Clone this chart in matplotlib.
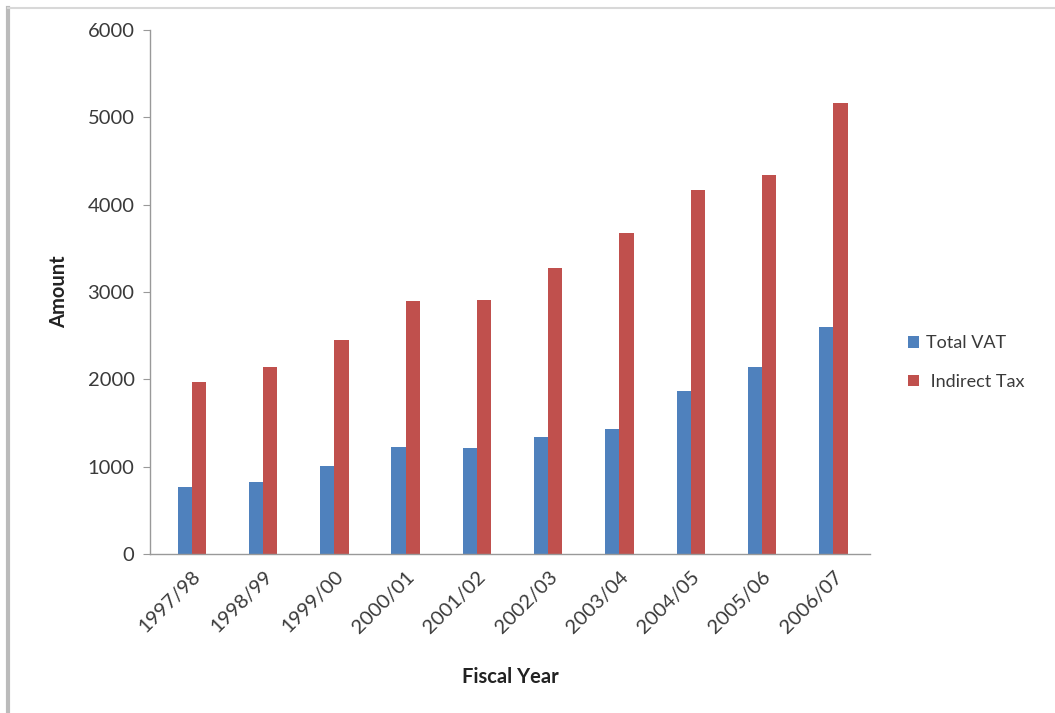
import numpy as np
import matplotlib.pyplot as plt
from matplotlib.lines import Line2D

years = ["1997/98", "1998/99", "1999/00", "2000/01", "2001/02",
         "2002/03", "2003/04", "2004/05", "2005/06", "2006/07"]
total_vat = [770, 830, 1010, 1220, 1210, 1340, 1430, 1870, 2145, 2600]
indirect_tax = [1970, 2140, 2450, 2900, 2910, 3280, 3680, 4170, 4340, 5160]

plt.rcParams['font.family'] = ['Lato', 'DejaVu Sans']

fig = plt.figure(figsize=(10.55, 7.13), dpi=100)
ax = fig.add_axes([0.142, 0.223, 0.683, 0.735])

x = np.arange(len(years))
w = 0.2
ax.bar(x - w/2, total_vat, width=w, color='#4F81BD', label='Total VAT')
ax.bar(x + w/2, indirect_tax, width=w, color='#C0504D', label=' Indirect Tax')

ax.set_xlim(-0.59, 9.52)
ax.set_ylim(0, 6000)
ax.set_yticks(range(0, 6001, 1000))
ax.set_xticks(x)
ax.set_xticklabels(years, rotation=45, ha='right', rotation_mode='anchor',
                   fontsize=14.5, color='#3a3a3a')
ax.tick_params(axis='x', length=0, pad=10)
ax.tick_params(axis='y', length=5, color='#999999', labelsize=14.5,
               labelcolor='#3a3a3a', pad=6)

for s in ['top', 'right']:
    ax.spines[s].set_visible(False)
for s in ['left', 'bottom']:
    ax.spines[s].set_color('#999999')
    ax.spines[s].set_linewidth(1.0)

ax.set_xlabel('Fiscal Year', fontsize=14.5, fontweight='bold', color='#222222', labelpad=22)
ax.set_ylabel('Amount', fontsize=14.5, fontweight='bold', color='#222222', labelpad=13)

leg = ax.legend(loc='center left', bbox_to_anchor=(1.03, 0.365), frameon=False,
                fontsize=13, handlelength=0.6, handleheight=0.6,
                labelspacing=1.25, handletextpad=0.4)
for t in leg.get_texts():
    t.set_color('#3a3a3a')

# outer border of the chart area
fig.add_artist(Line2D([0.008, 0.008], [0, 0.989], color='#bbbbbb', lw=3))
fig.add_artist(Line2D([0.008, 1], [0.989, 0.989], color='#d8d8d8', lw=1.5))

fig.savefig('out.png', dpi=100)
